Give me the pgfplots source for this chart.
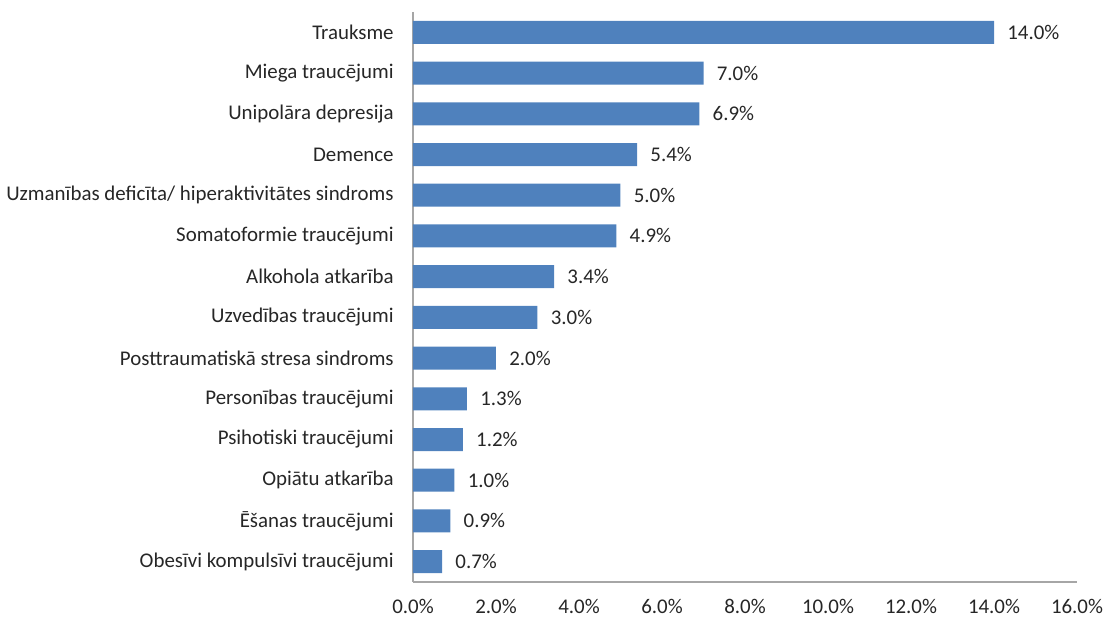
\documentclass[border=0pt]{standalone}
\usepackage{fontspec}
\setmainfont{Carlito}
\usepackage{pgfplots}
\pgfplotsset{compat=1.18}
\definecolor{barblue}{HTML}{4F81BD}
\definecolor{axgray}{HTML}{A6A6A6}
\begin{document}
\fontsize{10.45}{12}\selectfont
\begin{tikzpicture}
\path[use as bounding box] (-206.5pt,-19pt) rectangle (346.5pt,291pt);
\begin{axis}[
  at={(0,0)}, anchor=south west,
  scale only axis, width=332pt, height=285pt,
  xbar, bar width=11.5pt,
  xmin=0, xmax=16, ymin=-0.5, ymax=13.5,
  y dir=reverse,
  axis x line*=bottom, axis y line*=left,
  axis line style={axgray, line width=0.8pt},
  xtick={0,2,...,16}, ytick={0,...,13},
  major tick length=0pt,
  yticklabels={Trauksme,Miega traucējumi,Unipolāra depresija,Demence,Uzmanības deficīta/ hiperaktivitātes sindroms,Somatoformie traucējumi,Alkohola atkarība,Uzvedības traucējumi,Posttraumatiskā stresa sindroms,Personības traucējumi,Psihotiski traucējumi,Opiātu atkarība,Ēšanas traucējumi,Obesīvi kompulsīvi traucējumi},
  xticklabel={\pgfmathprintnumber[fixed,fixed zerofill,precision=1]{\tick}\%},
  /pgf/number format/assume math mode=true,
  ticklabel style={font=\fontsize{10.45}{12}\selectfont, text=black!85},
  yticklabel style={xshift=-6pt},
  xticklabel style={yshift=-5pt},
  nodes near coords={\pgfmathprintnumber[fixed,fixed zerofill,precision=1]{\pgfplotspointmeta}\%},
  nodes near coords style={anchor=west, xshift=3pt, font=\fontsize{10.45}{12}\selectfont, text=black!85},
  clip=false,
]
\addplot[fill=barblue, draw=none] coordinates {
(14.0,0) (7.0,1) (6.9,2) (5.4,3) (5.0,4) (4.9,5) (3.4,6) (3.0,7) (2.0,8) (1.3,9) (1.2,10) (1.0,11) (0.9,12) (0.7,13)
};
\end{axis}
\end{tikzpicture}
\end{document}
